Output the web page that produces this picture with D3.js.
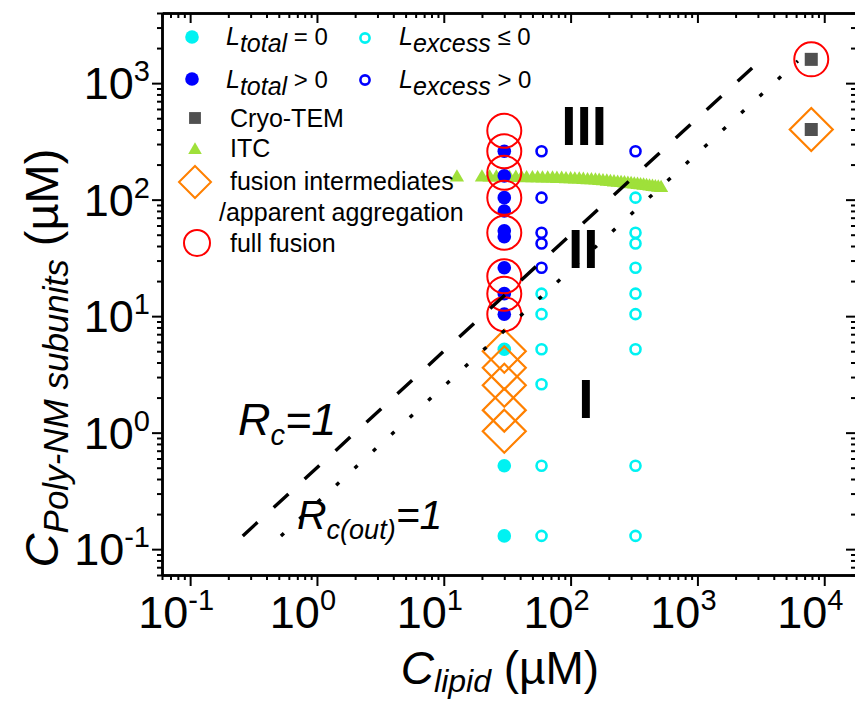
<!DOCTYPE html>
<html>
<head>
<meta charset="utf-8">
<script src="https://cdn.jsdelivr.net/npm/d3@7"></script>
<style>
  body { margin: 0; background: #fff; }
  svg { font-family: "Liberation Sans", Arial, sans-serif; display: block; }
</style>
</head>
<body>
<svg id="chart"></svg>
<script>
let w = 855;
let h = 701;

// lipid concentration of the three sample columns (uM)
let colA = 30;
let colB = 59;
let colC = 325;

// protein subunit concentrations (uM) per column / category
let ltotalZeroA = [0.13, 0.52, 5.2];
let ltotalPosA = [10.4, 15.6, 26, 48, 54, 80, 104, 160, 260];
let excessNegB = [0.13, 0.52, 2.6, 5.2, 10.4, 15.6];
let excessPosB = [26, 42, 52, 104, 260];
let excessNegC = [0.13, 0.52, 5.2, 10.4, 15.6, 26, 42, 52, 104];
let excessPosC = [260];
let intermediatesA = [1.03, 1.56, 2.55, 3.6, 5.0];
let fullFusionA = [10.4, 15.6, 22, 52, 104, 170, 260, 390];

// cryo-TEM samples
let cryoLipid = [7900, 7900];
let cryoPoly = [1600, 400];
let cryoFusion = [1600];
let cryoIntermediate = [400];

// ITC titration
let itcLipid = [12.7, 20, 23, 26, 29.5, 33, 37, 41, 45, 50, 55, 60, 66, 72, 78, 85, 92, 100, 108, 117,
  126, 136, 146, 157, 168, 180, 193, 206, 220, 235, 250, 266, 283, 300, 318, 337, 356, 376, 397, 419,
  442, 466, 491, 517];
let itcPoly = [155, 155, 155, 155, 154, 154, 154, 154, 153, 153, 153, 152, 152, 152, 151, 151, 150, 150, 149, 149,
  148, 147, 147, 146, 145, 144, 143, 142, 141, 140, 139, 138, 137, 136, 135, 134, 133, 132, 131, 130,
  129, 128, 127, 126];

// Rc = 1 and Rc(out) = 1 boundaries (lipid, poly)
let rcLine = [[0.26, 0.13], [2700, 1350]];
let rcOutLine = [[0.52, 0.13], [6200, 1550]];

// axis settings
let xDomain = [0.06, 17800];
let yDomain = [0.06, 4000];
let xMajor = [0.1, 1, 10, 100, 1000, 10000];
let yMajor = [0.1, 1, 10, 100, 1000];

// region labels (lipid, poly)
let regions = [
  { t: "III", x: 128, y: 292 },
  { t: "II", x: 126, y: 25.8 },
  { t: "I", x: 132, y: 1.34 }
];

let cyan = "#00f2f2", blue = "#0000ff", gray = "#505050", green = "#9fe03a", orange = "#ff8000", red = "#ff0000";

let svg = d3.select("#chart").attr("width", w).attr("height", h);

let xScale = d3.scaleLog().domain(xDomain).range([162, 856]);
let yScale = d3.scaleLog().domain(yDomain).range([575, 13]);

let xMinor = xScale.ticks().filter(d => !xMajor.some(m => Math.abs(m - d) / m < 1e-6));
let yMinor = yScale.ticks().filter(d => !yMajor.some(m => Math.abs(m - d) / m < 1e-6));

// AXES
function addAxis(axis, tx, ty) {
  let g = svg.append("g").attr("transform", `translate(${tx},${ty})`).call(axis);
  g.selectAll("text").remove();
  g.select(".domain").attr("stroke", "#000").attr("stroke-width", 2.5);
  g.selectAll(".tick line").attr("stroke", "#000").attr("stroke-width", 2);
  return g;
}
let y0 = yScale.range()[0], y1 = yScale.range()[1];
let x0 = xScale.range()[0], x1 = xScale.range()[1];

addAxis(d3.axisBottom(xScale).tickValues(xMinor).tickSize(5).tickSizeOuter(0), 0, y0);
addAxis(d3.axisBottom(xScale).tickValues(xMajor).tickSize(11).tickSizeOuter(0), 0, y0);
addAxis(d3.axisTop(xScale).tickValues(xMinor).tickSize(-5).tickSizeOuter(0), 0, y1);
addAxis(d3.axisTop(xScale).tickValues(xMajor).tickSize(-10).tickSizeOuter(0), 0, y1);
addAxis(d3.axisLeft(yScale).tickValues(yMinor).tickSize(5).tickSizeOuter(0), x0, 0);
addAxis(d3.axisLeft(yScale).tickValues(yMajor).tickSize(10).tickSizeOuter(0), x0, 0);
addAxis(d3.axisRight(yScale).tickValues(yMinor).tickSize(-5).tickSizeOuter(0), x1, 0);
addAxis(d3.axisRight(yScale).tickValues(yMajor).tickSize(-10).tickSizeOuter(0), x1, 0);

// tick labels with superscripts
function powLabel(sel, v) {
  sel.append("tspan").text("10");
  sel.append("tspan").attr("font-size", 29).attr("dy", -18).text(Math.round(Math.log10(v)));
}
xMajor.forEach(v => {
  let t = svg.append("text")
    .attr("x", xScale(v) - 14).attr("y", 628)
    .attr("text-anchor", "middle").attr("font-size", 45);
  powLabel(t, v);
});
yMajor.forEach(v => {
  let t = svg.append("text")
    .attr("x", 150).attr("y", yScale(v) + 16)
    .attr("text-anchor", "end").attr("font-size", 45);
  powLabel(t, v);
});

// axis titles
let xt = svg.append("text").attr("x", 500).attr("y", 684).attr("text-anchor", "middle").attr("font-size", 46);
xt.append("tspan").attr("font-style", "italic").text("C");
xt.append("tspan").attr("font-style", "italic").attr("font-size", 32).attr("dy", 8).text("lipid");
xt.append("tspan").attr("dy", -8).text(" (\u00b5M)");

let yt = svg.append("text").attr("transform", "translate(58,358) rotate(-90)").attr("text-anchor", "middle").attr("font-size", 47);
yt.append("tspan").attr("font-style", "italic").text("C");
yt.append("tspan").attr("font-style", "italic").attr("font-size", 35).attr("dy", 10).text("Poly-NM subunits");
yt.append("tspan").attr("dy", -10).text(" (\u00b5M)");

// DATA
let plot = svg.append("g");
let tri = d3.symbol().type(d3.symbolTriangle).size(88);
let sq = d3.symbol().type(d3.symbolSquare).size(170);
let diamond = r => `M0,${-r}L${r},0L0,${r}L${-r},0Z`;

let itc = itcLipid.map((d, i) => ({ x: d, y: itcPoly[i] }));
plot.append("g").selectAll("path").data(itc).join("path")
  .attr("transform", d => `translate(${xScale(d.x)},${yScale(d.y)})`)
  .attr("d", tri).attr("fill", green);

function col(xv, vals) { return vals.map(v => ({ x: xv, y: v })); }

plot.append("g").selectAll("circle").data(col(colA, ltotalZeroA)).join("circle")
  .attr("cx", d => xScale(d.x)).attr("cy", d => yScale(d.y)).attr("r", 6.8).attr("fill", cyan);
plot.append("g").selectAll("circle").data(col(colA, ltotalPosA)).join("circle")
  .attr("cx", d => xScale(d.x)).attr("cy", d => yScale(d.y)).attr("r", 6.8).attr("fill", blue);
plot.append("g").selectAll("circle").data(col(colB, excessNegB).concat(col(colC, excessNegC))).join("circle")
  .attr("cx", d => xScale(d.x)).attr("cy", d => yScale(d.y)).attr("r", 5)
  .attr("fill", "none").attr("stroke", cyan).attr("stroke-width", 2.6);
plot.append("g").selectAll("circle").data(col(colB, excessPosB).concat(col(colC, excessPosC))).join("circle")
  .attr("cx", d => xScale(d.x)).attr("cy", d => yScale(d.y)).attr("r", 5)
  .attr("fill", "none").attr("stroke", blue).attr("stroke-width", 2.6);

let cryo = cryoLipid.map((d, i) => ({ x: d, y: cryoPoly[i] }));
plot.append("g").selectAll("path").data(cryo).join("path")
  .attr("transform", d => `translate(${xScale(d.x)},${yScale(d.y)})`)
  .attr("d", sq).attr("fill", gray);

plot.append("g").selectAll("path").data(col(colA, intermediatesA).concat(col(cryoLipid[1], cryoIntermediate))).join("path")
  .attr("transform", d => `translate(${xScale(d.x)},${yScale(d.y)})`)
  .attr("d", diamond(21.5)).attr("fill", "none").attr("stroke", orange).attr("stroke-width", 2.2);

plot.append("g").selectAll("circle").data(col(colA, fullFusionA).concat(col(cryoLipid[0], cryoFusion))).join("circle")
  .attr("cx", d => xScale(d.x)).attr("cy", d => yScale(d.y)).attr("r", 17)
  .attr("fill", "none").attr("stroke", red).attr("stroke-width", 2);

// boundary lines
let line = d3.line().x(d => xScale(d[0])).y(d => yScale(d[1]));
plot.append("path").attr("d", line(rcLine)).attr("fill", "none").attr("stroke", "#000")
  .attr("stroke-width", 3.4).attr("stroke-dasharray", "20,22");
plot.append("path").attr("d", line(rcOutLine)).attr("fill", "none").attr("stroke", "#000")
  .attr("stroke-width", 3.4).attr("stroke-dasharray", "4,21");

// region labels
svg.append("g").selectAll("text").data(regions).join("text")
  .attr("x", d => xScale(d.x)).attr("y", d => yScale(d.y))
  .attr("text-anchor", "middle").attr("font-size", 55).attr("font-weight", "bold")
  .text(d => d.t);

// Rc labels
let rc = svg.append("text").attr("x", 238).attr("y", 435).attr("font-size", 45).attr("font-style", "italic");
rc.append("tspan").text("R");
rc.append("tspan").attr("font-size", 29).attr("dy", 10).text("c");
rc.append("tspan").attr("dy", -10).text("=1");

let rco = svg.append("text").attr("x", 297).attr("y", 529).attr("font-size", 41).attr("font-style", "italic");
rco.append("tspan").text("R");
rco.append("tspan").attr("font-size", 27).attr("dy", 10).text("c(out)");
rco.append("tspan").attr("dy", -10).text("=1");

// LEGEND
let legend = svg.append("g").attr("font-size", 25);
function lText(x, y, main, sub, rest) {
  let t = legend.append("text").attr("x", x).attr("y", y);
  t.append("tspan").attr("font-style", "italic").text(main);
  t.append("tspan").attr("font-style", "italic").attr("font-size", 25).attr("dy", 7).text(sub);
  t.append("tspan").attr("font-size", 24).attr("dy", -7).text(rest);
}
legend.append("circle").attr("cx", 192).attr("cy", 37).attr("r", 6.8).attr("fill", cyan);
lText(226, 45, "L", "total", " = 0");
legend.append("circle").attr("cx", 365).attr("cy", 38).attr("r", 4.6).attr("fill", "none").attr("stroke", cyan).attr("stroke-width", 2.6);
lText(399, 45, "L", "excess", " \u2264 0");
legend.append("circle").attr("cx", 192).attr("cy", 79).attr("r", 6.8).attr("fill", blue);
lText(226, 88, "L", "total", " > 0");
legend.append("circle").attr("cx", 365).attr("cy", 80).attr("r", 4.6).attr("fill", "none").attr("stroke", blue).attr("stroke-width", 2.6);
lText(399, 88, "L", "excess", " > 0");

legend.append("path").attr("transform", "translate(195,118)").attr("d", d3.symbol().type(d3.symbolSquare).size(140)).attr("fill", gray);
legend.append("text").attr("x", 230).attr("y", 127).text("Cryo-TEM");
legend.append("path").attr("transform", "translate(195,150)").attr("d", d3.symbol().type(d3.symbolTriangle).size(80)).attr("fill", green);
legend.append("text").attr("x", 230).attr("y", 157).text("ITC");
legend.append("path").attr("transform", "translate(195,182)").attr("d", diamond(16)).attr("fill", "none").attr("stroke", orange).attr("stroke-width", 2);
legend.append("text").attr("x", 230).attr("y", 190).text("fusion intermediates");
legend.append("text").attr("x", 219).attr("y", 221).text("/apparent aggregation");
legend.append("circle").attr("cx", 197).attr("cy", 243).attr("r", 13).attr("fill", "none").attr("stroke", red).attr("stroke-width", 2);
legend.append("text").attr("x", 230).attr("y", 252).text("full fusion");
</script>
</body>
</html>
